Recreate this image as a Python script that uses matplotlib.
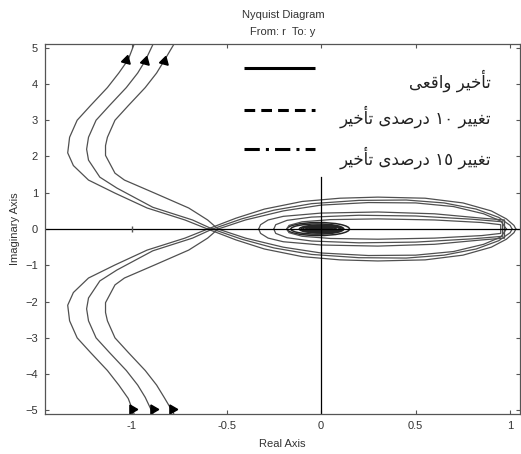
import numpy as np
import matplotlib.pyplot as plt
from matplotlib.patches import Ellipse

# upper half of each response (lower half is the mirror image)
# far branches: from the real-axis crossing out past the top of the plot
branch_a = [(-0.60, 0), (-0.72, 0.25), (-0.92, 0.58), (-1.09, 0.99), (-1.23, 1.35), (-1.31, 1.75),
            (-1.34, 2.1), (-1.33, 2.53), (-1.29, 3.0), (-1.22, 3.4), (-1.13, 3.9), (-1.07, 4.3),
            (-1.02, 4.67), (-0.99, 5.08), (-0.98, 5.3)]
branch_b = [(-0.575, 0), (-0.68, 0.25), (-0.89, 0.6), (-1.08, 1.13), (-1.17, 1.43), (-1.23, 1.9),
            (-1.24, 2.2), (-1.23, 2.53), (-1.19, 3.0), (-1.12, 3.4), (-1.03, 3.9), (-0.97, 4.3),
            (-0.93, 4.64), (-0.89, 5.08), (-0.88, 5.3)]
branch_c = [(-0.545, 0), (-0.60, 0.25), (-0.70, 0.58), (-0.88, 0.99), (-1.04, 1.35), (-1.09, 1.54),
            (-1.14, 2.03), (-1.14, 2.3), (-1.13, 2.53), (-1.09, 3.0), (-1.02, 3.4), (-0.93, 3.9),
            (-0.87, 4.3), (-0.83, 4.64), (-0.78, 5.08), (-0.77, 5.3)]

# outer loops between the crossing and the low-frequency end
loop_a = [(-0.60, 0), (-0.45, 0.3), (-0.3, 0.55), (-0.1, 0.76), (0.1, 0.85), (0.3, 0.88), (0.55, 0.85),
          (0.75, 0.72), (0.9, 0.5), (0.98, 0.28), (1.02, 0.1), (1.03, 0)]
loop_b = [(-0.575, 0), (-0.42, 0.28), (-0.25, 0.52), (-0.05, 0.7), (0.2, 0.79), (0.45, 0.80),
          (0.65, 0.72), (0.82, 0.55), (0.94, 0.32), (1.0, 0.1), (1.01, 0)]
loop_c = [(-0.545, 0), (-0.4, 0.25), (-0.2, 0.5), (0.0, 0.66), (0.25, 0.73), (0.5, 0.72), (0.7, 0.62),
          (0.86, 0.42), (0.95, 0.22), (0.98, 0)]

# inner loops
inner_a = [(-0.33, 0), (-0.32, 0.12), (-0.28, 0.25), (-0.2, 0.35), (0.0, 0.44), (0.3, 0.47), (0.6, 0.42),
           (0.85, 0.3), (0.97, 0.25), (0.97, 0)]
inner_b = [(-0.25, 0), (-0.24, 0.12), (-0.18, 0.24), (-0.05, 0.33), (0.2, 0.38), (0.5, 0.36),
           (0.8, 0.27), (0.96, 0.2), (0.96, 0)]
inner_c = [(-0.18, 0), (-0.17, 0.1), (-0.1, 0.2), (0.05, 0.26), (0.3, 0.28), (0.6, 0.25),
           (0.85, 0.18), (0.95, 0.12), (0.95, 0)]

# small turns near the origin: centre x, width, height
swirl_x = [-0.015, -0.02, 0.0, 0.0, 0.005, 0.01, 0.0, 0.005, 0.0, 0.0, 0.0, 0.0, 0.0]
swirl_w = [0.33, 0.28, 0.23, 0.21, 0.20, 0.18, 0.16, 0.14, 0.12, 0.10, 0.08, 0.06, 0.04]
swirl_h = [0.36, 0.28, 0.22, 0.19, 0.17, 0.15, 0.13, 0.11, 0.09, 0.07, 0.05, 0.04, 0.02]

# direction markers
arrow_top_x = [-1.03, -0.93, -0.83]
arrow_top_y = [4.67, 4.64, 4.64]
arrow_bot_x = [-1.0, -0.89, -0.79]
arrow_bot_y = [-4.97, -4.97, -4.97]

xticks = [-1, -0.5, 0, 0.5, 1]
yticks = [-5, -4, -3, -2, -1, 0, 1, 2, 3, 4, 5]

# legend captions, written in display order with joined letter forms
cap_real = '\uFEF0\uFECC\uFED7\uFE8D\uFEED \uFEAE\uFEF4\uFEA7\uFE84\uFE97'
cap_10 = '\uFEAE\uFEF4\uFEA7\uFE84\uFE97 \uFEEF\uFEAA\uFEBB\uFEAD\uFEA9 \u0661\u0660 \uFEAE\uFEF4\uFEF4\uFED0\uFE97'
cap_15 = '\uFEAE\uFEF4\uFEA7\uFE84\uFE97 \uFEEF\uFEAA\uFEBB\uFEAD\uFEA9 \u0661\u0665 \uFEAE\uFEF4\uFEF4\uFED0\uFE97'

plt.rcParams['font.family'] = ['Liberation Sans', 'DejaVu Sans']

fig = plt.figure(figsize=(5.21, 4.54), dpi=100)
ax = fig.add_axes([0.0864, 0.088, 0.911, 0.815])

col = '#505050'
for path in [branch_a, branch_b, branch_c, loop_a, loop_b, loop_c, inner_a, inner_b, inner_c]:
    p = np.array(path)
    ax.plot(p[:, 0], p[:, 1], color=col, lw=0.9)
    ax.plot(p[:, 0], -p[:, 1], color=col, lw=0.9)

for cx, w, h in zip(swirl_x, swirl_w, swirl_h):
    ax.add_patch(Ellipse((cx, 0), w, h, fill=False, ec='#252525', lw=1.1))

ax.plot(arrow_top_x, arrow_top_y, ls='none', marker=(3, 0, 105), ms=7.5, color='k')
ax.plot(arrow_bot_x, arrow_bot_y, ls='none', marker=(3, 0, -90), ms=7.5, color='k')

# real and imaginary axis lines
ax.axhline(0, color='k', lw=0.9)
ax.plot([0, 0], [-5.2, 1.43], color='k', lw=0.9)
ax.plot([-1], [0], marker='|', ms=4, color='#555555')

# legend samples
ax.plot([-0.41, -0.03], [4.45, 4.45], color='k', lw=2.2, solid_capstyle='butt')
ax.plot([-0.41, -0.03], [3.27, 3.27], color='k', lw=2.2, ls=(0, (3.5, 2)))
ax.plot([-0.41, -0.03], [2.2, 2.2], color='k', lw=2.2, ls=(0, (5, 2, 1, 2)))
ax.text(0.9, 4.1, cap_real, ha='right', va='center', fontsize=12, family='DejaVu Sans', color='#222222')
ax.text(0.9, 3.1, cap_10, ha='right', va='center', fontsize=12, family='DejaVu Sans', color='#222222')
ax.text(0.9, 1.97, cap_15, ha='right', va='center', fontsize=12, family='DejaVu Sans', color='#222222')

ax.set_xlim(-1.46, 1.05)
ax.set_ylim(-5.1, 5.1)
ax.set_xticks(xticks)
ax.set_xticklabels(['-1', '-0.5', '0', '0.5', '1'])
ax.set_yticks(yticks)
ax.tick_params(direction='in', length=3, top=True, right=True, labelsize=8,
               labelcolor='#333333', color='#555555', pad=5)
for s in ax.spines.values():
    s.set_color('#555555')
    s.set_linewidth(0.9)

ax.set_xlabel('Real Axis', fontsize=8, color='#333333', labelpad=6)
ax.set_ylabel('Imaginary Axis', fontsize=8, color='#333333', labelpad=4)
fig.text(0.543, 0.967, 'Nyquist Diagram', ha='center', va='center', fontsize=8, color='#333333')
fig.text(0.543, 0.929, 'From: r  To: y', ha='center', va='center', fontsize=8, color='#333333')

fig.savefig('out.png', dpi=100)
